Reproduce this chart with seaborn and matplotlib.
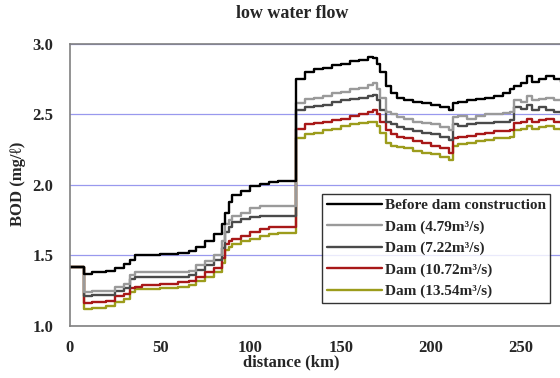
import matplotlib
matplotlib.use("Agg")
import matplotlib.pyplot as plt
import seaborn as sns
import pandas as pd

distance = [0, 7, 8, 12, 15, 20, 25, 30, 33, 36, 40, 50, 60, 66, 70, 75, 80, 84, 86, 88, 90, 95,
            100, 105, 110, 115, 120, 124, 125, 130, 135, 140, 145, 150, 155, 160, 165, 168, 170,
            172, 175, 178, 181, 185, 190, 195, 200, 205, 210, 212, 215, 220, 225, 230, 235, 240,
            244, 246, 250, 253, 256, 260, 264, 268, 272]

before_dam = [1.42, 1.42, 1.37, 1.38, 1.38, 1.39, 1.41, 1.44, 1.47, 1.50, 1.50, 1.51, 1.52, 1.53,
              1.56, 1.60, 1.65, 1.72, 1.80, 1.88, 1.93, 1.96, 1.99, 2.01, 2.02, 2.03, 2.03, 2.03,
              2.75, 2.80, 2.82, 2.83, 2.85, 2.86, 2.88, 2.89, 2.91, 2.90, 2.86, 2.80, 2.70, 2.65,
              2.62, 2.60, 2.59, 2.58, 2.57, 2.55, 2.53, 2.58, 2.59, 2.60, 2.61, 2.62, 2.63, 2.65,
              2.68, 2.70, 2.72, 2.77, 2.73, 2.75, 2.77, 2.75, 2.73]

dam_479 = [1.42, 1.42, 1.24, 1.25, 1.25, 1.25, 1.28, 1.30, 1.36, 1.38, 1.38, 1.38, 1.38, 1.39,
           1.43, 1.46, 1.50, 1.60, 1.72, 1.75, 1.78, 1.80, 1.84, 1.85, 1.85, 1.85, 1.85, 1.85,
           2.58, 2.61, 2.62, 2.63, 2.65, 2.66, 2.68, 2.69, 2.71, 2.72, 2.68, 2.62, 2.52, 2.50,
           2.48, 2.47, 2.45, 2.44, 2.43, 2.41, 2.39, 2.48, 2.49, 2.47, 2.49, 2.50, 2.50, 2.51,
           2.52, 2.60, 2.59, 2.63, 2.60, 2.61, 2.62, 2.60, 2.60]

dam_722 = [1.42, 1.42, 1.21, 1.22, 1.22, 1.22, 1.25, 1.27, 1.33, 1.35, 1.35, 1.35, 1.35, 1.36,
           1.40, 1.43, 1.47, 1.55, 1.67, 1.70, 1.74, 1.76, 1.77, 1.78, 1.78, 1.78, 1.78, 1.78,
           2.53, 2.55, 2.56, 2.57, 2.59, 2.60, 2.61, 2.62, 2.63, 2.64, 2.60, 2.53, 2.45, 2.43,
           2.41, 2.40, 2.38, 2.37, 2.36, 2.34, 2.32, 2.43, 2.42, 2.43, 2.44, 2.44, 2.45, 2.45,
           2.46, 2.55, 2.54, 2.57, 2.53, 2.55, 2.53, 2.52, 2.51]

dam_1072 = [1.42, 1.42, 1.16, 1.17, 1.17, 1.18, 1.21, 1.23, 1.27, 1.28, 1.29, 1.30, 1.31, 1.32,
            1.35, 1.38, 1.41, 1.48, 1.58, 1.60, 1.62, 1.64, 1.67, 1.69, 1.70, 1.70, 1.70, 1.70,
            2.40, 2.43, 2.44, 2.45, 2.46, 2.47, 2.49, 2.50, 2.52, 2.53, 2.50, 2.45, 2.39, 2.36,
            2.34, 2.33, 2.31, 2.30, 2.28, 2.26, 2.23, 2.33, 2.34, 2.35, 2.36, 2.37, 2.38, 2.38,
            2.39, 2.44, 2.45, 2.47, 2.45, 2.46, 2.47, 2.45, 2.44]

dam_1354 = [1.42, 1.42, 1.12, 1.13, 1.13, 1.14, 1.17, 1.19, 1.24, 1.26, 1.26, 1.27, 1.28, 1.29,
            1.32, 1.35, 1.38, 1.45, 1.54, 1.56, 1.58, 1.60, 1.62, 1.64, 1.65, 1.66, 1.66, 1.66,
            2.33, 2.36, 2.37, 2.39, 2.40, 2.42, 2.43, 2.44, 2.45, 2.45, 2.42, 2.37, 2.30, 2.28,
            2.27, 2.26, 2.24, 2.23, 2.22, 2.20, 2.18, 2.28, 2.29, 2.30, 2.31, 2.32, 2.33, 2.33,
            2.34, 2.39, 2.40, 2.42, 2.40, 2.41, 2.42, 2.40, 2.39]

series_names = ["Before dam construction", "Dam (4.79m³/s)", "Dam (7.22m³/s)",
                "Dam (10.72m³/s)", "Dam (13.54m³/s)"]
series_values = [before_dam, dam_479, dam_722, dam_1072, dam_1354]
series_colors = ["#000000", "#9a9a9a", "#4a4a4a", "#a81818", "#9c9c1c"]

x_ticks = [0, 50, 100, 150, 200, 250]
y_ticks = [1.0, 1.5, 2.0, 2.5, 3.0]

rows = []
for name, vals in zip(series_names, series_values):
    for d, v in zip(distance, vals):
        rows.append({"distance": d, "BOD": v, "series": name})
df = pd.DataFrame(rows)

sns.set_theme(style="white")
plt.rcParams["font.family"] = ["Liberation Serif", "DejaVu Serif"]
plt.rcParams["font.weight"] = "bold"

fig = plt.figure(figsize=(5.6, 3.78), dpi=100)
ax = fig.add_axes([0.125, 0.1376, 0.875, 0.746])

palette = dict(zip(series_names, series_colors))
# draw later series first so the black line is on top
for name in series_names[::-1]:
    sub = df[df["series"] == name]
    sns.lineplot(data=sub, x="distance", y="BOD", color=palette[name], ax=ax,
                 drawstyle="steps-post", linewidth=1.7, label=name, legend=False)

ax.set_xlim(0, 271.5)
ax.set_ylim(1.0, 3.0)
ax.set_xticks(x_ticks)
ax.set_yticks(y_ticks)
ax.set_xticklabels([str(t) for t in x_ticks], fontsize=12, fontweight="bold")
ax.set_yticklabels([f"{t:.1f}" for t in y_ticks], fontsize=12, fontweight="bold")
ax.tick_params(axis="x", direction="in", length=4, width=0.8, color="#808080", pad=10)
ax.tick_params(axis="y", length=0, pad=12)
ax.set_xlabel("")
ax.set_ylabel("")

ax.yaxis.grid(True, color="#9999ee", linewidth=0.9)
ax.xaxis.grid(False)
ax.set_axisbelow(True)
for s in ["left", "top", "bottom"]:
    ax.spines[s].set_color("#808080")
    ax.spines[s].set_linewidth(1.2)
ax.spines["right"].set_visible(False)

handles = {l.get_label(): l for l in ax.get_lines()}
leg = ax.legend([handles[n] for n in series_names], series_names,
                loc="lower right", bbox_to_anchor=(0.98, 0.082), borderaxespad=0,
                prop={"family": "Liberation Serif", "weight": "bold", "size": 11},
                frameon=True, fancybox=False, edgecolor="black", handlelength=3.6,
                handletextpad=0.2, labelspacing=0.5, borderpad=0.3)
leg.get_frame().set_linewidth(1.0)

fig.text(0.521, 0.965, "low water flow", ha="center", va="center", fontsize=13, fontweight="bold")
fig.text(0.52, 0.04, "distance (km)", ha="center", va="center", fontsize=12, fontweight="bold")
fig.text(0.033, 0.515, "BOD (mg/ℓ)", ha="center", va="center", rotation=90, fontsize=12,
         fontweight="bold", family=["Liberation Serif", "DejaVu Serif"])

fig.savefig("out.png", dpi=100)
